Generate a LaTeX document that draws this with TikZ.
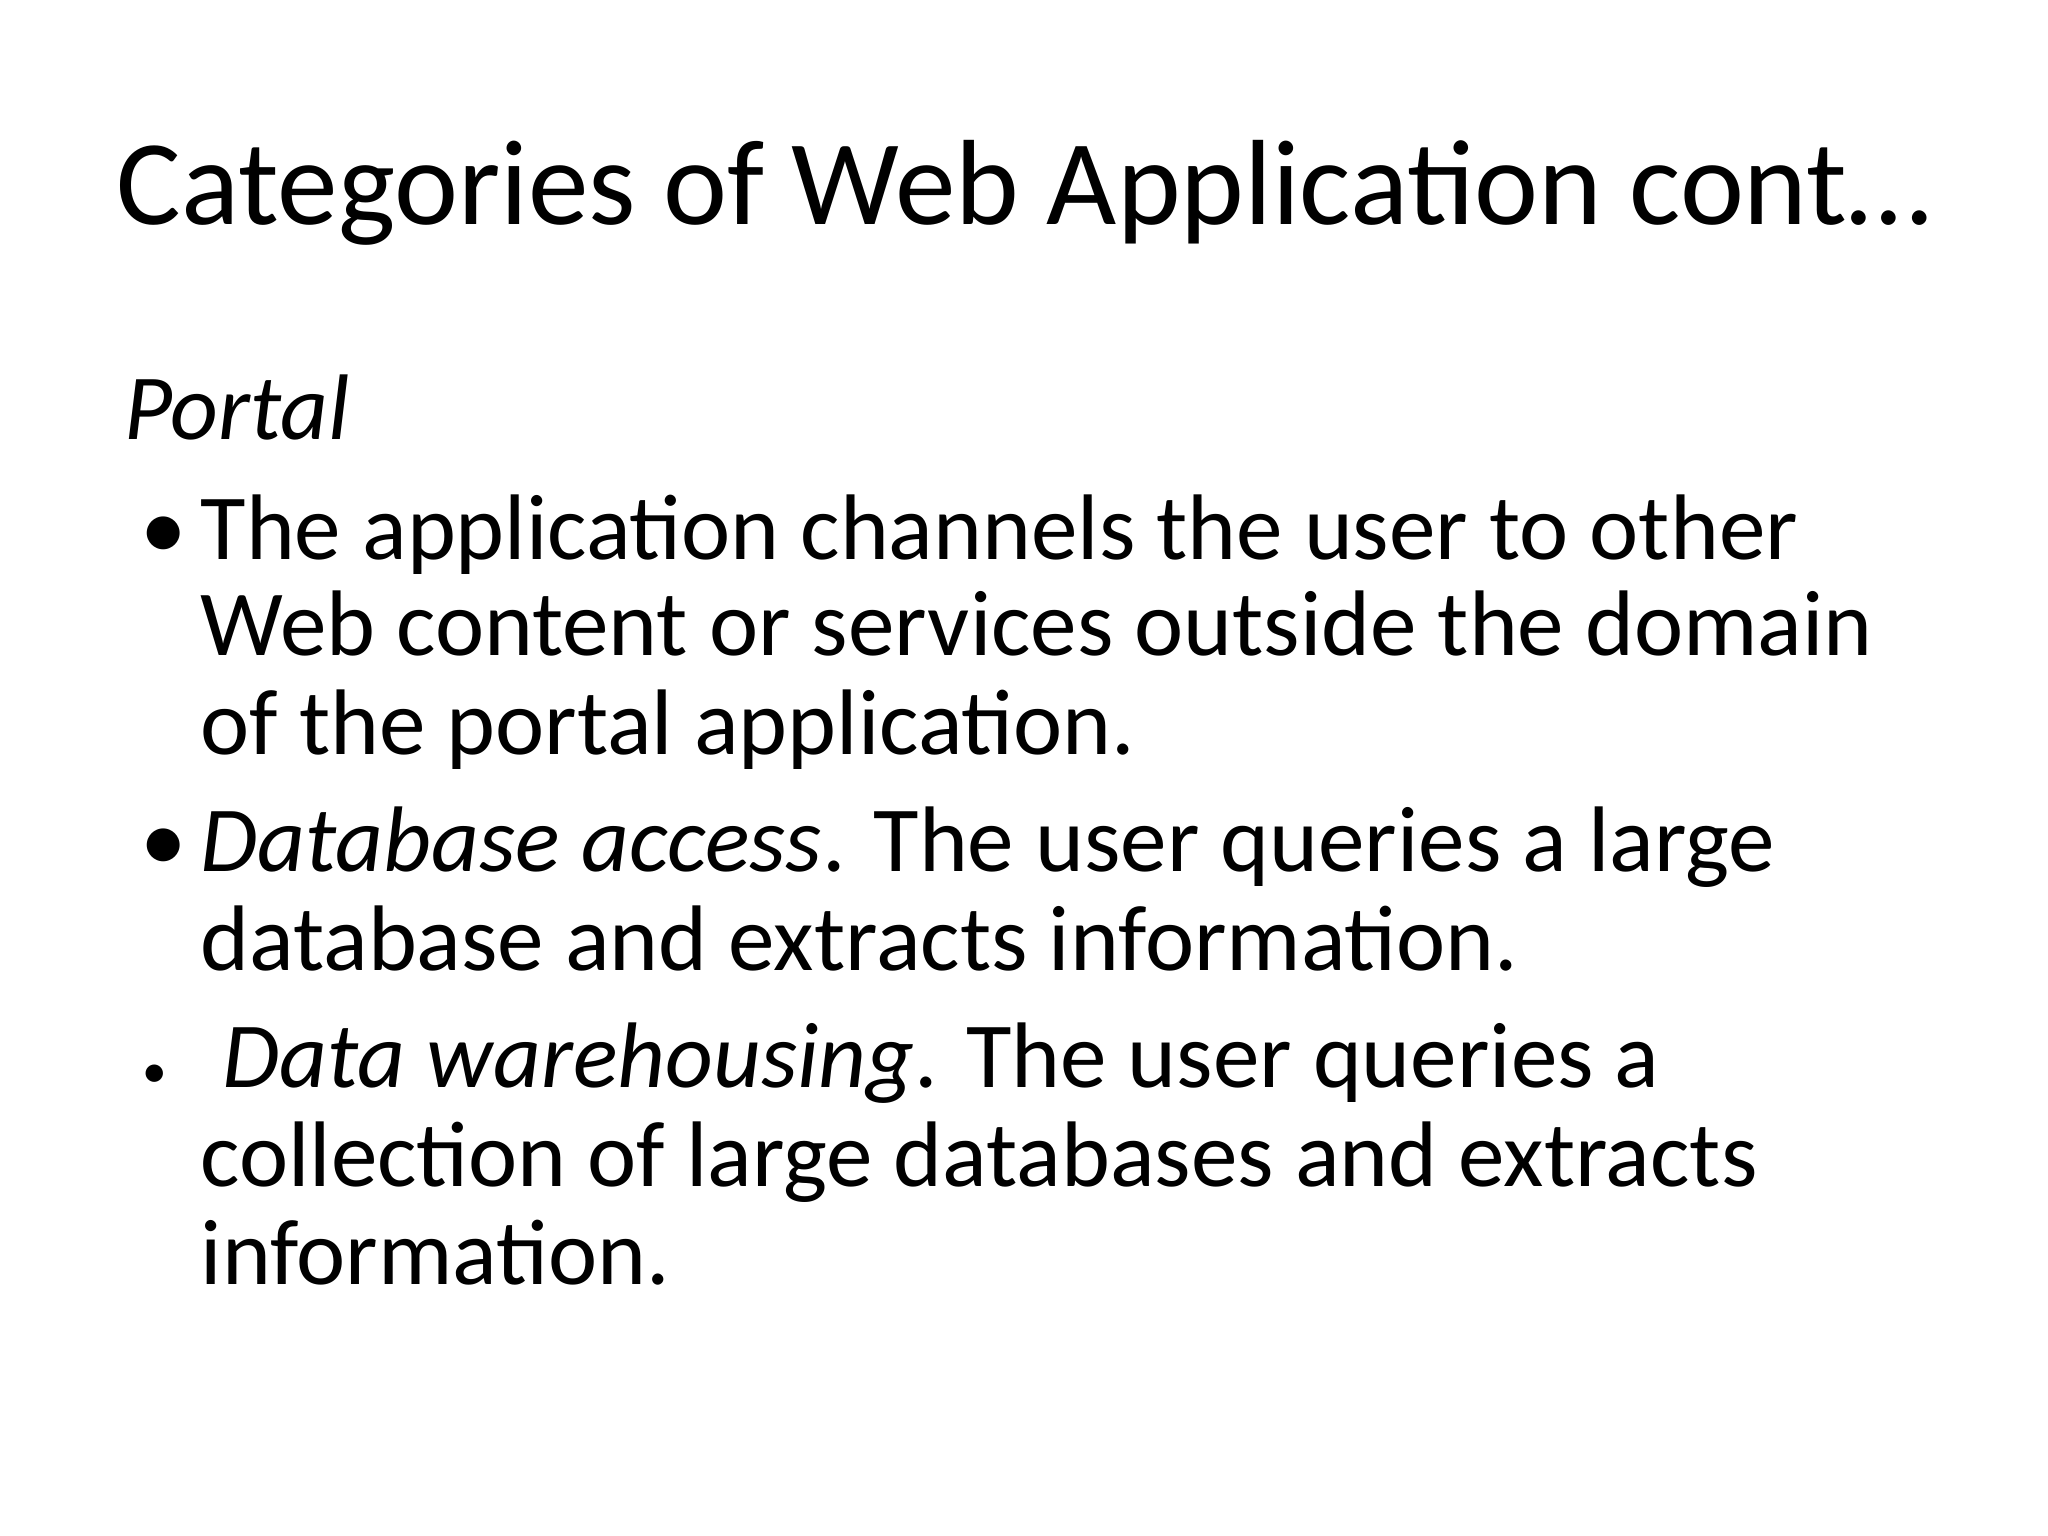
\documentclass[tikz,border=0pt]{standalone}
\usepackage{fontspec}
\setmainfont{Carlito}
\begin{document}
\begin{tikzpicture}[x=1cm,y=1cm,
  ln/.style={anchor=base west,inner sep=0pt,font=\fontsize{26.5pt}{30pt}\selectfont},
  bul/.style={anchor=base west,inner sep=0pt,font=\fontsize{26.5pt}{30pt}\selectfont}]
\useasboundingbox (0,0) rectangle (20.48,-15.36);
\fill[white] (0,0) rectangle (20.48,-15.36);
\node[anchor=base,inner sep=0pt,font=\fontsize{34.5pt}{40pt}\selectfont] (title) at (10.24,-2.25) {Categories of Web Application cont…};
\node[ln] (portal) at (1.24,-4.40) {\itshape Portal};
\node[bul] (b1) at (1.40,-5.59) {•};
\node[ln] (l1) at (2.00,-5.59) {The application channels the user to other};
\node[ln] (l2) at (2.00,-6.56) {Web content or services outside the domain};
\node[ln] (l3) at (2.00,-7.55) {of the portal application.};
\node[bul] (b2) at (1.40,-8.71) {•};
\node[ln] (l4) at (2.00,-8.71) {\textit{Database access}. The user queries a large};
\node[ln] (l5) at (2.00,-9.70) {database and extracts information.};
\node[anchor=base west,inner sep=0pt,font=\fontsize{14pt}{16pt}\selectfont] (b3) at (1.42,-10.87) {•};
\node[ln] (l6) at (2.22,-10.87) {\textit{Data warehousing}. The user queries a};
\node[ln] (l7) at (2.00,-11.86) {collection of large databases and extracts};
\node[ln] (l8) at (2.00,-12.84) {information.};
\end{tikzpicture}
\end{document}
